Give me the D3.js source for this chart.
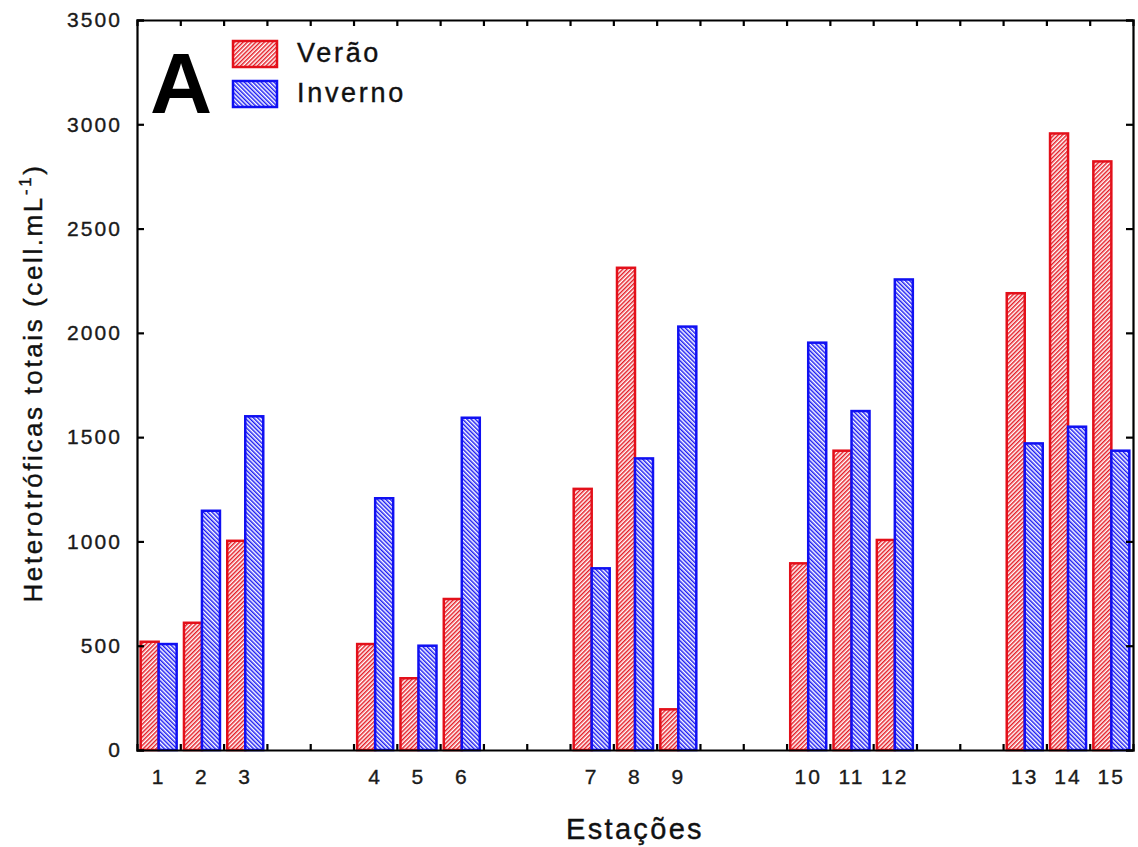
<!DOCTYPE html>
<html>
<head>
<meta charset="utf-8">
<script src="https://cdn.jsdelivr.net/npm/d3@7"></script>
<style>
  html, body { margin: 0; padding: 0; background: #fff; }
  svg { display: block; font-family: "Liberation Sans", Arial, Helvetica, sans-serif; }
</style>
</head>
<body>
<svg id="chart" width="1138" height="847"></svg>
<script>
// Heterotrophic bacteria counts per sampling station, summer vs winter
const stations = ["1","2","3","4","5","6","7","8","9","10","11","12","13","14","15"];
const verao   = [519, 610, 1003, 508, 344, 724, 1252, 2312, 195, 895, 1435, 1007, 2190, 2956, 2822];
const inverno = [508, 1147, 1600, 1207, 500, 1593, 871, 1398, 2030, 1953, 1625, 2256, 1470, 1550, 1435];
const seriesNames = ["Verão", "Inverno"];
const yTicks = [0, 500, 1000, 1500, 2000, 2500, 3000, 3500];

const stationsPerGroup = 3;
const blankSlots = 2;

const colors = { "Verão": "#e3101a", "Inverno": "#1010f2" };

const svg = d3.select("#chart");
const W = 1138, H = 847;
const m = { left: 137, right: 5, top: 20, bottom: 97 };
const x0 = m.left, x1 = W - m.right, y0 = H - m.bottom, y1 = m.top;

// slot layout: groups of stations separated by blank slots
const slots = [];
stations.forEach((s, i) => {
  slots.push(s);
  if ((i + 1) % stationsPerGroup === 0 && i < stations.length - 1) {
    for (let k = 0; k < blankSlots; k++) slots.push("_gap" + i + "_" + k);
  }
});

const x = d3.scaleBand().domain(slots).range([x0, x1]).paddingInner(0).paddingOuter(0);
const xEdge = d3.scaleLinear().domain([0, slots.length]).range([x0, x1]);
const groupWidth = 36;
const xs = d3.scaleBand().domain(seriesNames).range([0, groupWidth]);
const y = d3.scaleLinear().domain([0, 3500]).range([y0, y1]);

// hatch fills
const defs = svg.append("defs");
function hatch(id, color, angle) {
  const p = defs.append("pattern")
    .attr("id", id)
    .attr("patternUnits", "userSpaceOnUse")
    .attr("width", 3).attr("height", 3)
    .attr("patternTransform", `rotate(${angle})`);
  p.append("rect").attr("width", 3).attr("height", 3).attr("fill", "#fff");
  p.append("line").attr("x1", 0.75).attr("y1", 0).attr("x2", 0.75).attr("y2", 3)
    .attr("stroke", color).attr("stroke-width", 1.4);
}
hatch("hatch-verao", colors["Verão"], 45);
hatch("hatch-inverno", colors["Inverno"], -45);
const fills = { "Verão": "url(#hatch-verao)", "Inverno": "url(#hatch-inverno)" };

// bars
const rows = stations.map((s, i) => ({ station: s, "Verão": verao[i], "Inverno": inverno[i] }));
const g = svg.append("g");
rows.forEach(r => {
  const gx = x(r.station) + (x.bandwidth() - groupWidth) / 2;
  seriesNames.forEach(name => {
    g.append("rect")
      .attr("x", gx + xs(name))
      .attr("y", y(r[name]))
      .attr("width", xs.bandwidth())
      .attr("height", y0 - y(r[name]))
      .attr("fill", fills[name])
      .attr("stroke", colors[name])
      .attr("stroke-width", 2.5);
  });
});

// frame and axes
const tickFont = g2 => g2.selectAll("text")
  .attr("font-size", 21).attr("letter-spacing", "0.1em").attr("fill", "#1a1a1a")
  .attr("stroke", "#1a1a1a").attr("stroke-width", 0.35)
  .attr("font-family", "Liberation Sans, Arial, sans-serif");

const yAxis = svg.append("g").attr("transform", `translate(${x0},0)`)
  .call(d3.axisLeft(y).tickValues(yTicks).tickSize(-7).tickPadding(15).tickFormat(d3.format("d")));
yAxis.call(tickFont);

svg.append("g").attr("transform", `translate(${x1},0)`)
  .call(d3.axisRight(y).tickValues(yTicks).tickSize(-7).tickFormat(""));

svg.append("g").attr("transform", `translate(0,${y1})`)
  .call(d3.axisTop(xEdge).tickValues(d3.range(1, slots.length)).tickSize(-6).tickFormat(""));

svg.append("g").attr("transform", `translate(0,${y0})`)
  .call(d3.axisBottom(xEdge).tickValues(d3.range(1, slots.length)).tickSize(-6).tickFormat(""));

const xAxis = svg.append("g").attr("transform", `translate(0,${y0})`)
  .call(d3.axisBottom(x).tickValues(stations).tickSize(0).tickPadding(19));
xAxis.call(tickFont);
xAxis.select(".domain").remove();

svg.selectAll(".domain").attr("stroke", "#000").attr("stroke-width", 2.2);
svg.selectAll(".tick line").attr("stroke", "#000").attr("stroke-width", 2.2);

// axis titles
svg.append("text")
  .attr("x", 635).attr("y", 839)
  .attr("text-anchor", "middle")
  .attr("font-size", 29).attr("letter-spacing", "0.08em").attr("fill", "#111")
  .attr("stroke", "#111").attr("stroke-width", 0.4)
  .text("Estações");

const yt = svg.append("text")
  .attr("transform", "translate(42,383) rotate(-90)")
  .attr("text-anchor", "middle")
  .attr("font-size", 26).attr("letter-spacing", "0.1em").attr("fill", "#111")
  .attr("stroke", "#111").attr("stroke-width", 0.4);
yt.append("tspan").text("Heterotróficas totais (cell.mL");
yt.append("tspan").attr("font-size", 17).attr("dy", -11).text("-1");
yt.append("tspan").attr("dy", 11).text(")");

// panel letter
svg.append("text")
  .attr("x", 150).attr("y", 113)
  .attr("font-size", 86).attr("font-weight", "bold").attr("fill", "#000")
  .text("A");

// legend
const legend = svg.append("g");
seriesNames.forEach((name, i) => {
  const ly = 41 + i * 40;
  legend.append("rect")
    .attr("x", 233).attr("y", ly).attr("width", 44).attr("height", 26)
    .attr("fill", fills[name]).attr("stroke", colors[name]).attr("stroke-width", 2.5);
  legend.append("text")
    .attr("x", 297).attr("y", ly + 21)
    .attr("font-size", 27).attr("letter-spacing", "0.1em").attr("fill", "#111")
    .attr("stroke", "#111").attr("stroke-width", 0.4)
    .text(name);
});
</script>
</body>
</html>
